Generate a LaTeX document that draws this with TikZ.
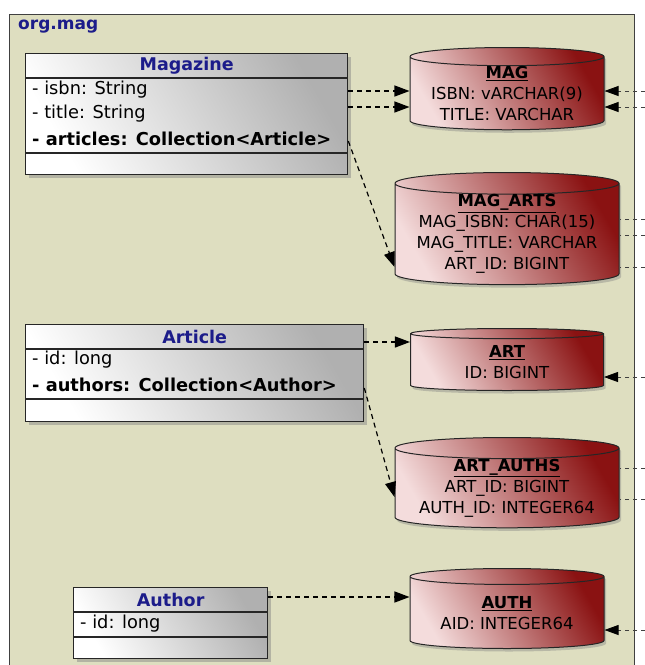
\documentclass[tikz,border=0pt]{standalone}
\usepackage{fontspec}
\setmainfont{DejaVu Sans}
\usetikzlibrary{shapes.geometric,shadows,arrows.meta}

\definecolor{pkgbg}{HTML}{DEDEC0}
\definecolor{pkgtitle}{HTML}{1C1C8A}
\definecolor{tabdark}{HTML}{8A1212}
\definecolor{tablight}{HTML}{F4DCDC}
\definecolor{clsgray}{HTML}{B0B0B0}

\tikzset{
  package/.style={draw=black!75, line width=1pt, fill=pkgbg, inner sep=0pt},
  pkglabel/.style={text=pkgtitle, font=\fontsize{17}{20}\selectfont\bfseries, inner sep=0pt},
  classbox/.style={draw=black!85, line width=1.3pt, top color=clsgray, bottom color=white,
    shading angle=-60, inner sep=0pt,
    drop shadow={shadow xshift=3pt, shadow yshift=-3pt, opacity=.45}},
  divider/.style={draw=black!85, line width=1.3pt},
  classname/.style={text=pkgtitle, font=\fontsize{17.5}{20}\selectfont\bfseries, inner sep=0pt},
  attr/.style={anchor=west, font=\fontsize{17.8}{20}\selectfont, inner sep=0pt},
  dbtable/.style={cylinder, shape border rotate=90, aspect=0.12, draw=black!85, line width=1pt,
    top color=tabdark, bottom color=tablight, shading angle=-60, anchor=north,
    align=center, font=\fontsize{16.5}{21}\selectfont, inner sep=0pt,
    drop shadow={shadow xshift=2pt, shadow yshift=-3pt, opacity=.4}},
  assoc/.style={line width=1.2pt, dash pattern=on 5pt off 4pt, -{Triangle[length=15pt,width=11pt]}},
  extref/.style={line width=.8pt, black!75, dash pattern=on 4pt off 4pt},
  exttip/.style={-{Triangle[length=14pt,width=10pt,color=black,fill=black]}}
}

\begin{document}
\begin{tikzpicture}[x=1pt,y=-1pt]
\useasboundingbox (0,0) rectangle (645,665);

% package org.mag
\node[package, minimum width=625, minimum height=700, anchor=north west] (pkg) at (9,14) {};
\node[pkglabel, anchor=west] (pkgname) at (18,27) {org.mag};

% classes
\node[classbox, minimum width=322, minimum height=121, anchor=north west] (magazine) at (25,53) {};
\draw[divider] (magazine.west |- 0,78) -- (magazine.east |- 0,78);
\draw[divider] (magazine.west |- 0,153) -- (magazine.east |- 0,153);
\node[classname] (magname) at (magazine.north |- 0,65.5) {Magazine};
\node[attr] (isbn) at (32,90) {- isbn: String};
\node[attr] (title) at (32,114) {- title: String};
\node[attr, font=\fontsize{17.8}{20}\selectfont\bfseries] (articles) at (32,139) {- articles: Collection<Article>};

\node[classbox, minimum width=338, minimum height=97, anchor=north west] (article) at (25,324) {};
\draw[divider] (article.west |- 0,349) -- (article.east |- 0,349);
\draw[divider] (article.west |- 0,399) -- (article.east |- 0,399);
\node[classname] (artname) at (article.north |- 0,336.5) {Article};
\node[attr] (artid) at (32,360) {- id: long};
\node[attr, font=\fontsize{17.8}{20}\selectfont\bfseries] (authors) at (32,385) {- authors: Collection<Author>};

\node[classbox, minimum width=194, minimum height=71, anchor=north west] (author) at (73,587) {};
\draw[divider] (author.west |- 0,612) -- (author.east |- 0,612);
\draw[divider] (author.west |- 0,637) -- (author.east |- 0,637);
\node[classname] (authname) at (author.north |- 0,599.5) {Author};
\node[attr] (authid) at (80,624) {- id: long};

% tables
\node[dbtable, minimum width=194, minimum height=81] (mag) at (507,47)
  {\underline{\textbf{MAG}}\\ISBN: vARCHAR(9)\\TITLE: VARCHAR};
\node[dbtable, minimum width=224, minimum height=108] (magarts) at (507,172)
  {\underline{\textbf{MAG\_ARTS}}\\MAG\_ISBN: CHAR(15)\\MAG\_TITLE: VARCHAR\\ART\_ID: BIGINT};
\node[dbtable, minimum width=193, minimum height=62] (art) at (507,328)
  {\underline{\textbf{ART}}\\ID: BIGINT};
\node[dbtable, minimum width=224, minimum height=73] (artauths) at (507,437)
  {\underline{\textbf{ART\_AUTHS}}\\ART\_ID: BIGINT\\AUTH\_ID: INTEGER64};
\node[dbtable, minimum width=194, minimum height=80] (auth) at (507,568)
  {\underline{\textbf{AUTH}}\\AID: INTEGER64};

% mappings
\draw[assoc] (magazine.east |- 0,91) -- (mag.west |- 0,91);
\draw[assoc] (magazine.east |- 0,107) -- (mag.west |- 0,107);
\draw[assoc] (magazine.east |- 0,141) -- (magarts.west |- 0,267);
\draw[assoc] (article.east |- 0,342) -- (art.west |- 0,342);
\draw[assoc] (article.east |- 0,388) -- (artauths.west |- 0,497);
\draw[assoc] (author.east |- 0,597) -- (auth.west |- 0,597);

% references from outside
\coordinate (ext1) at (645,91);
\coordinate (ext2) at (645,107);
\coordinate (ext3) at (645,219);
\coordinate (ext4) at (645,235);
\coordinate (ext5) at (645,267);
\coordinate (ext6) at (645,377);
\coordinate (ext7) at (645,468);
\coordinate (ext8) at (645,499);
\coordinate (ext9) at (645,630);
\draw[extref, exttip] (ext1) -- (ext1 -| mag.east);
\draw[extref, exttip] (ext2) -- (ext2 -| mag.east);
\draw[extref] (ext3) -- (ext3 -| magarts.east);
\draw[extref] (ext4) -- (ext4 -| magarts.east);
\draw[extref] (ext5) -- (ext5 -| magarts.east);
\draw[extref, exttip] (ext6) -- (ext6 -| art.east);
\draw[extref] (ext7) -- (ext7 -| artauths.east);
\draw[extref] (ext8) -- (ext8 -| artauths.east);
\draw[extref, exttip] (ext9) -- (ext9 -| auth.east);
\end{tikzpicture}
\end{document}
